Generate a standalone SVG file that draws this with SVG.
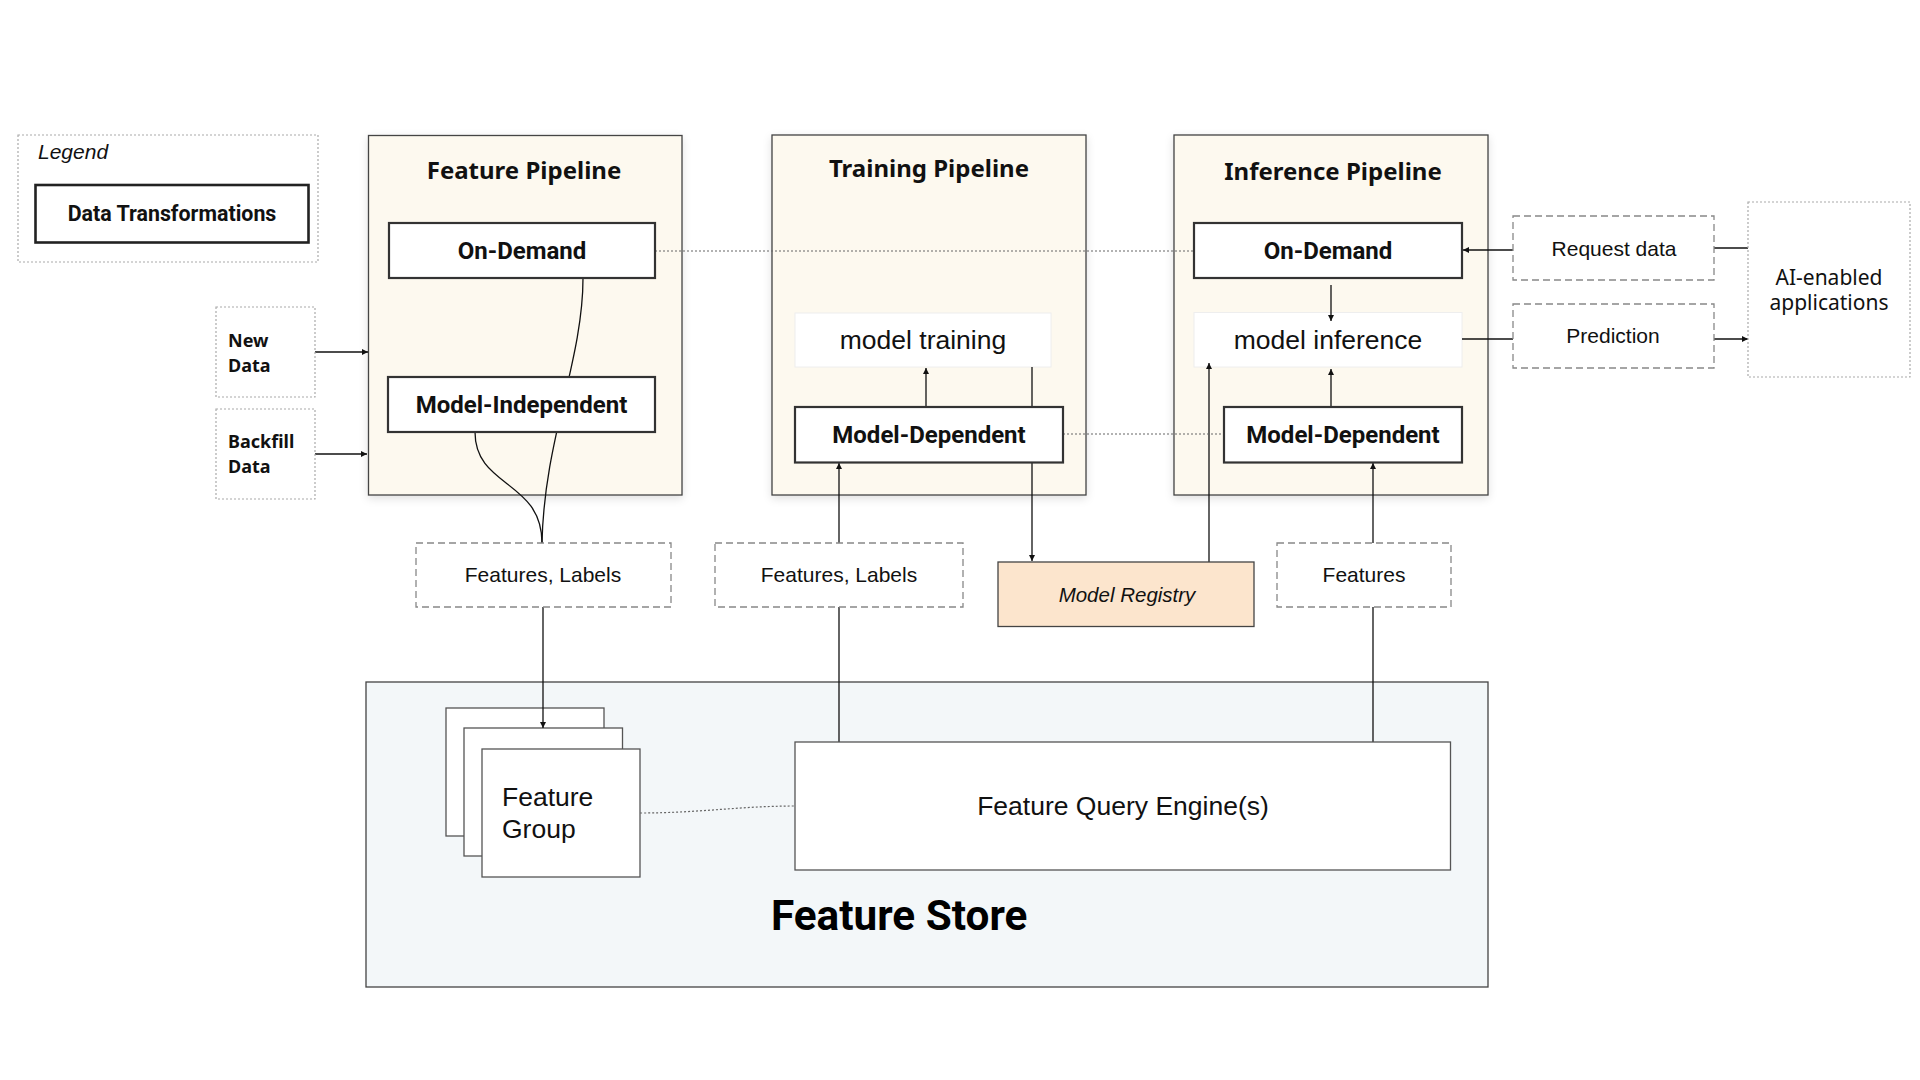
<svg xmlns="http://www.w3.org/2000/svg" width="1920" height="1080" viewBox="0 0 1920 1080">
<style>
.bg{fill:#ffffff}
.pipe{fill:#fdf9ef;stroke:#444;stroke-width:1.3}
.store{fill:#f3f7f9;stroke:#444;stroke-width:1.3}
.tbox{fill:#fff;stroke:#333;stroke-width:2.2}
.soft{fill:#fff;stroke:#eeeeee;stroke-width:1}
.dash{fill:#fff;stroke:#888;stroke-width:1.3;stroke-dasharray:7 4}
.dot{fill:#fff;stroke:#aaa;stroke-width:1.2;stroke-dasharray:2 2}
.plain{fill:#fff;stroke:#555;stroke-width:1.3}
.reg{fill:#fce5cd;stroke:#444;stroke-width:1.3}
.title{font-family:"Noto Sans","Open Sans",sans-serif;font-weight:700;font-size:24px;fill:#111;text-anchor:middle}
.bold{font-family:Roboto,"Liberation Sans",sans-serif;font-weight:700;font-size:24px;fill:#111;text-anchor:middle}
.lab{font-family:"Liberation Sans",Arial,sans-serif;font-size:21px;fill:#111;text-anchor:middle}
.lg{font-family:"Liberation Sans",Arial,sans-serif;font-size:26.5px;fill:#111;text-anchor:middle}
.big{font-family:"Liberation Sans",Arial,sans-serif;font-size:26.5px;fill:#111}
.src{font-family:"Noto Sans","Open Sans",sans-serif;font-weight:700;font-size:18px;fill:#111}
.con{fill:none;stroke:#111;stroke-width:1.3}
.dotl{fill:none;stroke:#666;stroke-width:1.2;stroke-dasharray:2 2}
</style>
<defs>
<marker id="ah" viewBox="0 0 10 10" refX="10" refY="5" markerWidth="6" markerHeight="6" markerUnits="userSpaceOnUse" orient="auto">
<path d="M0,0 L10,5 L0,10 z" fill="#111"/>
</marker>
<filter id="sh" x="-5%" y="-5%" width="110%" height="115%">
<feDropShadow dx="0" dy="3" stdDeviation="4" flood-color="#000" flood-opacity="0.12"/>
</filter>
</defs>
<rect class="bg" x="0" y="0" width="1920" height="1080"/>

<g id="legend">
<rect class="dot" x="18" y="135" width="300" height="127"/>
<text x="38" y="159" font-family="Liberation Sans, Arial, sans-serif" font-style="italic" font-size="21" fill="#111">Legend</text>
<rect x="35.5" y="185" width="273" height="57.5" fill="#fff" stroke="#222" stroke-width="2.6"/>
<text class="bold" x="172" y="221" style="font-size:21.4px">Data Transformations</text>
</g>

<g id="feature-pipeline">
<rect class="pipe" x="368.5" y="135.5" width="313.5" height="359.5" filter="url(#sh)"/>
<text class="title" x="524" y="179">Feature Pipeline</text>
</g>
<g id="training-pipeline">
<rect class="pipe" x="772" y="135" width="314" height="360" filter="url(#sh)"/>
<text class="title" x="929" y="177">Training Pipeline</text>
</g>
<g id="inference-pipeline">
<rect class="pipe" x="1174" y="135" width="314" height="360" filter="url(#sh)"/>
<text class="title" x="1333" y="180">Inference Pipeline</text>
</g>
<g id="feature-store">
<rect class="store" x="366" y="682" width="1122" height="305"/>
<text x="771" y="930" font-family="Roboto, Liberation Sans, sans-serif" font-weight="700" font-size="42.3" fill="#000">Feature Store</text>
</g>
<g id="feature-group">
<rect class="plain" x="446" y="708" width="158" height="128"/>
<rect class="plain" x="464" y="728" width="158.5" height="128"/>
<rect class="plain" x="482" y="749" width="158" height="128"/>
<text class="big" x="502" y="806">Feature</text>
<text class="big" x="502" y="838">Group</text>
</g>
<g id="model-training">
<rect class="soft" x="795" y="313" width="256" height="54"/>
<text class="lg" x="923" y="349">model training</text>
</g>
<g id="model-inference">
<rect class="soft" x="1194" y="312.5" width="268" height="54.5"/>
<text class="lg" x="1328" y="349">model inference</text>
</g>

<g id="connectors">
<path class="con" d="M583,278 C583,360 544,440 542,543"/>
<path class="con" d="M475,432 C475,488 542,480 542,543"/>
<path class="con" d="M543,607 L543,728" marker-end="url(#ah)"/>
<path class="con" d="M315,352 L368,352" marker-end="url(#ah)"/>
<path class="con" d="M315,454 L367,454" marker-end="url(#ah)"/>
<path class="con" d="M839,543 L839,463" marker-end="url(#ah)"/>
<path class="con" d="M839,607 L839,742"/>
<path class="con" d="M926,407 L926,368" marker-end="url(#ah)"/>
<path class="con" d="M1032,367 L1032,561" marker-end="url(#ah)"/>
<path class="con" d="M1209,562 L1209,363" marker-end="url(#ah)"/>
<path class="con" d="M1373,543 L1373,463" marker-end="url(#ah)"/>
<path class="con" d="M1373,607 L1373,742"/>
<path class="con" d="M1331,285 L1331,321" marker-end="url(#ah)"/>
<path class="con" d="M1331,407 L1331,369" marker-end="url(#ah)"/>
<path class="con" d="M1513,250 L1463,250" marker-end="url(#ah)"/>
<path class="con" d="M1714,248 L1748,248"/>
<path class="con" d="M1462,339 L1513,339"/>
<path class="con" d="M1714,339 L1748,339" marker-end="url(#ah)"/>
<path class="dotl" d="M655,251 L1194,251"/>
<path class="dotl" d="M1063,434 L1224,434"/>
<path class="dotl" d="M640,813 C700,813 740,806 795,806"/>
</g>

<g id="fp-on-demand">
<rect class="tbox" x="389" y="223" width="266" height="55"/>
<text class="bold" x="522" y="259">On-Demand</text>
</g>
<g id="fp-model-independent">
<rect class="tbox" x="388" y="377" width="267" height="55"/>
<text class="bold" x="521.5" y="413">Model-Independent</text>
</g>
<g id="tp-model-dependent">
<rect class="tbox" x="795" y="407" width="268" height="55.5"/>
<text class="bold" x="929" y="443">Model-Dependent</text>
</g>
<g id="ip-on-demand">
<rect class="tbox" x="1194" y="223" width="268" height="55" stroke-width="2.6"/>
<text class="bold" x="1328" y="259">On-Demand</text>
</g>
<g id="ip-model-dependent">
<rect class="tbox" x="1224" y="407" width="238" height="55.5"/>
<text class="bold" x="1343" y="443">Model-Dependent</text>
</g>

<g id="new-data">
<rect class="dot" x="216" y="307" width="99" height="90"/>
<text class="src" x="228" y="347">New</text>
<text class="src" x="228" y="372">Data</text>
</g>
<g id="backfill-data">
<rect class="dot" x="216" y="409" width="99" height="90"/>
<text class="src" x="228" y="448">Backfill</text>
<text class="src" x="228" y="473">Data</text>
</g>
<g id="features-labels-1">
<rect class="dash" x="416" y="543" width="255" height="64"/>
<text class="lab" x="543" y="582">Features, Labels</text>
</g>
<g id="features-labels-2">
<rect class="dash" x="715" y="543" width="248" height="64"/>
<text class="lab" x="839" y="582">Features, Labels</text>
</g>
<g id="model-registry">
<rect class="reg" x="998" y="562" width="256" height="64.5"/>
<text class="lab" x="1127" y="602" style="font-style:italic;font-size:20.5px">Model Registry</text>
</g>
<g id="features">
<rect class="dash" x="1277" y="543" width="174" height="64"/>
<text class="lab" x="1364" y="582">Features</text>
</g>
<g id="request-data">
<rect class="dash" x="1513" y="216" width="201" height="64"/>
<text class="lab" x="1614" y="256">Request data</text>
</g>
<g id="prediction">
<rect class="dash" x="1513" y="304" width="201" height="64"/>
<text class="lab" x="1613" y="343">Prediction</text>
</g>
<g id="ai-apps">
<rect class="dot" x="1748" y="202" width="162" height="175"/>
<text x="1829" y="285" font-family="Noto Sans, Open Sans, sans-serif" font-size="21" fill="#111" text-anchor="middle">AI-enabled</text>
<text x="1829" y="310" font-family="Noto Sans, Open Sans, sans-serif" font-size="21" fill="#111" text-anchor="middle">applications</text>
</g>
<g id="feature-query-engine">
<rect class="plain" x="795" y="742" width="655.5" height="128"/>
<text class="lg" x="1123" y="815">Feature Query Engine(s)</text>
</g>
</svg>
